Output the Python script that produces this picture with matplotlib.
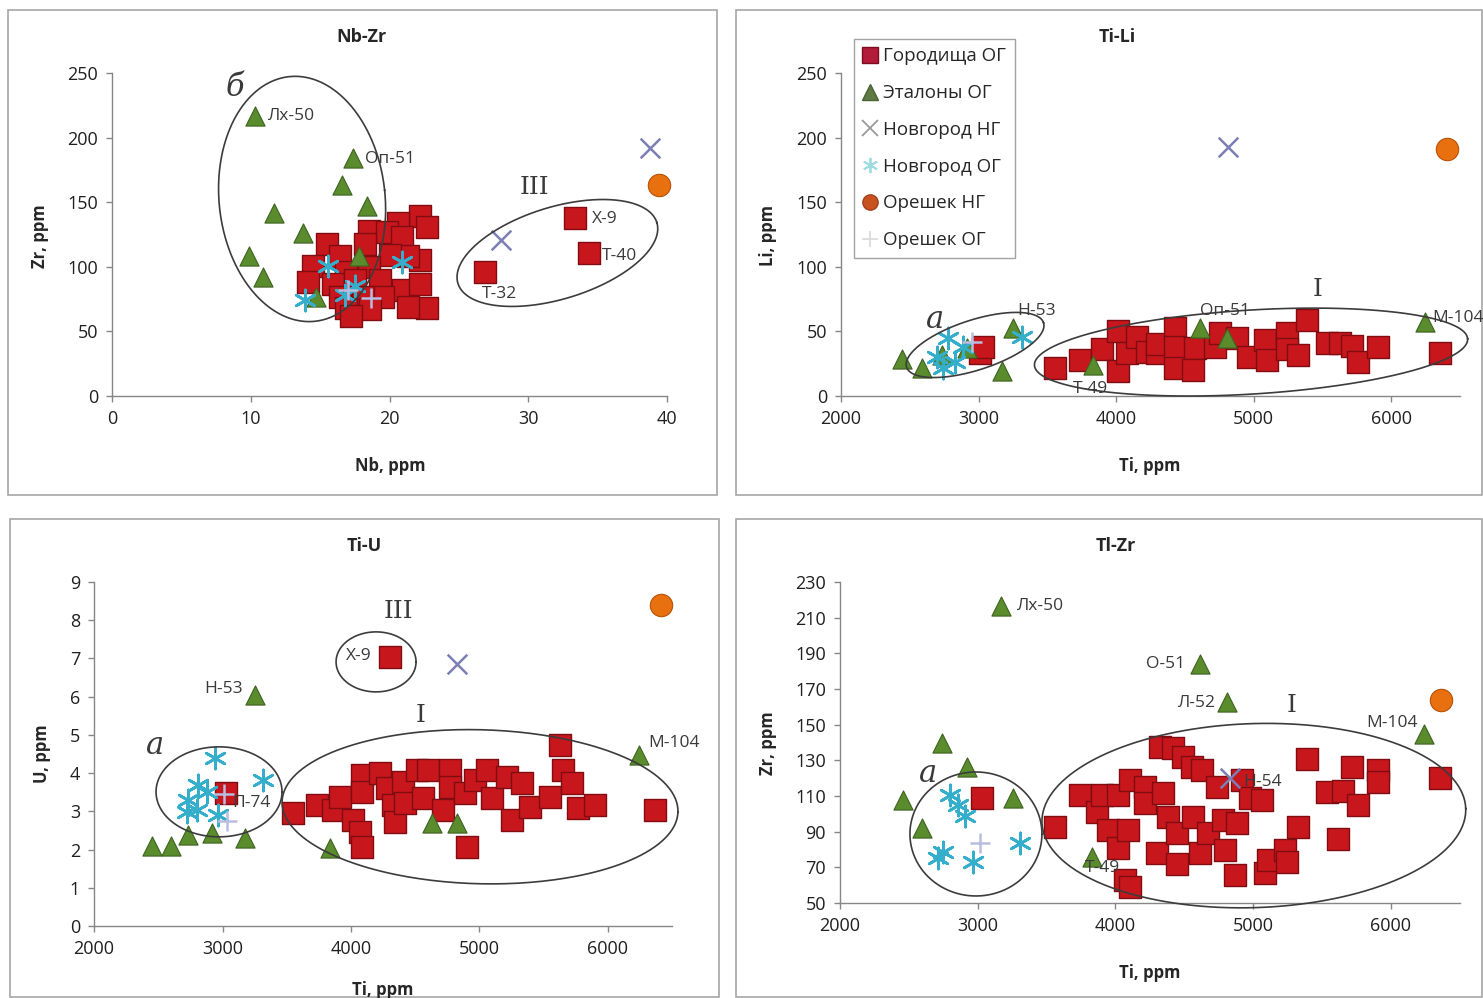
import numpy as np
import matplotlib
matplotlib.use("Agg")
import matplotlib.pyplot as plt
from matplotlib.patches import Rectangle
from matplotlib.lines import Line2D

plt.rcParams['font.family'] = ['Open Sans', 'DejaVu Sans']

W, H = 1483, 998

# ---------- data: Nb-Zr ----------
nbzr_gor_nb = [22.2, 22.7, 20.6, 18.5, 19.8, 20.9, 15.5, 18.2, 22.2, 21.3, 20.0, 16.4, 14.5, 16.9,
               18.5, 14.1, 15.9, 17.5, 19.3, 21.0, 22.2, 19.5, 18.1, 16.4, 16.9, 22.7, 21.3, 18.6, 17.2,
               33.4, 34.4, 26.9]
nbzr_gor_zr = [139, 131, 134, 128, 127, 123, 118, 118, 105, 108, 109, 108, 101, 96,
               100, 88, 87, 90, 90, 82, 87, 77, 77, 77, 68, 68, 69, 67, 62,
               138, 111, 96]
nbzr_et_nb = [10.3, 17.4, 16.6, 18.4, 11.7, 13.8, 9.9, 10.9, 17.8, 14.7]
nbzr_et_zr = [217, 184, 163, 147, 142, 126, 108, 92, 108, 77]
nbzr_nvng_nb = [28.0, 38.8]
nbzr_nvng_zr = [121, 192]
nbzr_nvog_nb = [13.9, 15.6, 20.9, 17.5, 16.8]
nbzr_nvog_zr = [74, 101, 104, 85, 78]
nbzr_orng_nb = [39.4]
nbzr_orng_zr = [163]
nbzr_orog_nb = [17.0, 18.7]
nbzr_orog_zr = [82, 76]

# ---------- data: Ti-Li ----------
tili_gor_ti = [3010, 3033, 3556, 3738, 3898, 4015, 4015, 4080, 4150, 4225, 4298, 4300,
               4429, 4429, 4429, 4575, 4560, 4720, 4756, 4880, 4960, 5084, 5098, 5244, 5244,
               5324, 5389, 5535, 5629, 5716, 5760, 5905, 6356]
tili_gor_li = [33, 38, 22, 28, 36, 50, 19, 33, 46, 34, 33, 40,
               53, 38, 22, 37, 20, 38, 49, 45, 30, 43, 28, 49, 36,
               32, 59, 41, 41, 39, 26, 38, 33]
tili_et_ti = [2444, 2589, 2735, 2916, 3251, 3171, 3833, 4611, 4807, 6247]
tili_et_li = [29, 22, 32, 37, 53, 19, 24, 53, 45, 57]
tili_nvng_ti = [4815]
tili_nvng_li = [193]
tili_nvog_ti = [2778, 2698, 2829, 2887, 2742, 3316]
tili_nvog_li = [45, 30, 26, 38, 22, 46]
tili_orng_ti = [6407]
tili_orng_li = [191]
tili_orog_ti = [2950]
tili_orog_li = [42]

# ---------- data: Ti-U ----------
tiu_gor_ti = [4303, 3027, 3549, 3735, 3860, 3914, 4016, 4070, 4086, 4086, 4086, 4226, 4280, 4327,
              4342, 4405, 4420, 4514, 4560, 4600, 4716, 4770, 4770, 4887, 4903, 4965, 5058, 5097,
              5214, 5253, 5331, 5393, 5549, 5626, 5650, 5720, 5767, 5899, 6366]
tiu_gor_u = [7.04, 3.48, 2.96, 3.17, 3.04, 3.38, 2.77, 2.46, 2.07, 3.95, 3.51, 4.00, 3.61, 3.17,
             2.72, 3.77, 3.22, 4.08, 3.35, 4.08, 3.04, 4.08, 3.64, 3.48, 2.07, 3.82, 4.08, 3.35,
             3.90, 2.77, 3.74, 3.12, 3.38, 4.74, 4.08, 3.74, 3.09, 3.17, 3.04]
tiu_et_ti = [3253, 2451, 2599, 2731, 2918, 3175, 3837, 4630, 4825, 6241]
tiu_et_u = [6.05, 2.09, 2.09, 2.38, 2.43, 2.30, 2.04, 2.70, 2.70, 4.48]
tiu_nvng_ti = [4825]
tiu_nvng_u = [6.86]
tiu_nvog_ti = [2942, 3315, 2809, 2879, 2731, 2724, 2802, 2965]
tiu_nvog_u = [4.40, 3.82, 3.69, 3.51, 3.30, 2.98, 3.04, 2.91]
tiu_orng_ti = [6412]
tiu_orng_u = [8.40]
tiu_orog_ti = [3035, 3010]
tiu_orog_u = [2.75, 3.45]

# ---------- data: Ti-Zr ----------
tizr_gor_ti = [3031, 3561, 3742, 3866, 3902, 3946, 4018, 4018, 4091, 4069, 4105, 4105, 4214, 4214,
               4301, 4323, 4345, 4381, 4417, 4447, 4447, 4490, 4563, 4555, 4614, 4628, 4672, 4737,
               4780, 4795, 4867, 4918, 4882, 4976, 5063, 5085, 5107, 5231, 5245, 5325, 5390, 5535,
               5615, 5651, 5717, 5760, 5906, 5906, 6356]
tizr_gor_zr = [109, 92.6, 110.6, 101, 110.6, 91, 110.6, 81, 91, 63, 119, 59, 115, 106,
               78, 137.5, 111.7, 98, 137, 89, 72, 132, 98, 126, 78, 124.6, 89, 115,
               96.5, 79.7, 65.7, 119, 95, 109, 108, 67, 74, 80, 73, 92.6, 131, 112,
               86, 113, 126, 105, 124.6, 118, 120]
tizr_et_ti = [3169, 4613, 4809, 6240, 2740, 2922, 2457, 2595, 3256, 3829]
tizr_et_zr = [216.5, 184, 162.7, 145, 140, 126, 108, 92, 109, 76]
tizr_nvng_ti = [4831]
tizr_nvng_zr = [120]
tizr_nvog_ti = [2799, 2857, 2907, 3307, 2711, 2748, 2966]
tizr_nvog_zr = [110.6, 105, 99, 83.6, 75, 78.6, 73]
tizr_orng_ti = [6363]
tizr_orng_zr = [163.8]
tizr_orog_ti = [3016]
tizr_orog_zr = [83.6]

legend_labels = ['Городища ОГ', 'Эталоны ОГ', 'Новгород НГ', 'Новгород ОГ', 'Орешек НГ', 'Орешек ОГ']

RED, RED_E = '#c8161d', '#7e0c10'
GREEN, GREEN_E = '#5a8b2c', '#3e6320'
XCOL = '#7b7fb3'
CYAN = '#35aecb'
ORANGE, ORANGE_E = '#e8700f', '#b5520a'
PLUS = '#b9bde0'
GRAY = '#868686'
TXT = '#3a3a3a'


def axes_px(x0, y0, x1, y1):
    return fig.add_axes([x0 / W, 1 - y1 / H, (x1 - x0) / W, (y1 - y0) / H])


def style(ax, xlim, ylim, xt, yt):
    ax.set_xlim(*xlim)
    ax.set_ylim(*ylim)
    ax.set_xticks(xt)
    ax.set_yticks(yt)
    for s in ['top', 'right']:
        ax.spines[s].set_visible(False)
    for s in ['left', 'bottom']:
        ax.spines[s].set_color(GRAY)
        ax.spines[s].set_linewidth(1.0)
    ax.tick_params(colors=GRAY, labelcolor='#202020', labelsize=13, length=4, width=1, pad=6)
    ax.patch.set_alpha(0)


def plot_series(ax, gx, gy, ex, ey, nx, ny, cx, cy, ox, oy, px, py):
    ax.scatter(gx, gy, marker='s', s=250, c=RED, edgecolors=RED_E, linewidths=1.0, zorder=3, clip_on=False)
    ax.scatter(ex, ey, marker='^', s=190, c=GREEN, edgecolors=GREEN_E, linewidths=0.8, zorder=4, clip_on=False)
    ax.scatter(nx, ny, marker='x', s=200, c=XCOL, linewidths=1.8, zorder=4, clip_on=False)
    ax.scatter(cx, cy, marker=(6, 2, 0), s=230, c=CYAN, linewidths=2.0, zorder=4, clip_on=False)
    ax.scatter(ox, oy, marker='o', s=260, c=ORANGE, edgecolors=ORANGE_E, linewidths=0.8, zorder=4, clip_on=False)
    ax.scatter(px, py, marker='+', s=220, c=PLUS, linewidths=1.8, zorder=4, clip_on=False)


def ellipse(ax, cx, cy, a, b, ang=0):
    # a, b are semi-axes in pixels, ang in degrees
    t = np.linspace(0, 2 * np.pi, 300)
    c, s = np.cos(np.radians(ang)), np.sin(np.radians(ang))
    x0, y0 = ax.transData.transform((cx, cy))
    ex, ey = a * np.cos(t), b * np.sin(t)
    pts = np.column_stack([x0 + ex * c - ey * s, y0 + ex * s + ey * c])
    d = ax.transData.inverted().transform(pts)
    ax.plot(d[:, 0], d[:, 1], color='#3c3c3c', lw=1.2, zorder=5, clip_on=False)


def ftext(x, y, s, **kw):
    fig.text(x / W, 1 - y / H, s, **kw)


def lab(x, y, s, ha='left'):
    ftext(x, y, s, ha=ha, va='center', fontsize=12.5, color=TXT)


def roman(x, y, s):
    ftext(x, y, s, ha='center', va='center', fontsize=18, color=TXT, family='DejaVu Serif')


def italic(x, y, s):
    ftext(x, y, s, ha='center', va='center', fontsize=22, color=TXT, family='DejaVu Serif', style='italic')


fig = plt.figure(figsize=(W / 100, H / 100), dpi=100)

# panel frames
for (x0, y0, x1, y1) in [(8, 10, 717, 495), (736, 10, 1482, 495), (10, 519, 719, 997), (736, 519, 1482, 997)]:
    fig.patches.append(Rectangle((x0 / W, 1 - y1 / H), (x1 - x0) / W, (y1 - y0) / H,
                                 transform=fig.transFigure, fill=False, edgecolor='#a6a6a6', lw=1.2))

# ---- Nb-Zr ----
ax1 = axes_px(112, 73, 667, 396)
style(ax1, (0, 40), (0, 250), [0, 10, 20, 30, 40], range(0, 251, 50))
plot_series(ax1, nbzr_gor_nb, nbzr_gor_zr, nbzr_et_nb, nbzr_et_zr, nbzr_nvng_nb, nbzr_nvng_zr,
            nbzr_nvog_nb, nbzr_nvog_zr, nbzr_orng_nb, nbzr_orng_zr, nbzr_orog_nb, nbzr_orog_zr)
ellipse(ax1, 13.7, 152.5, 83, 123, 6)
ellipse(ax1, 32.1, 110.7, 104, 46, 17)

# ---- Ti-Li ----
ax2 = axes_px(841, 73, 1459.75, 396)
style(ax2, (2000, 6500), (0, 250), range(2000, 6001, 1000), range(0, 251, 50))
plot_series(ax2, tili_gor_ti, tili_gor_li, tili_et_ti, tili_et_li, tili_nvng_ti, tili_nvng_li,
            tili_nvog_ti, tili_nvog_li, tili_orng_ti, tili_orng_li, tili_orog_ti, tili_orog_li)
ellipse(ax2, 2975, 39.5, 72, 25, 18)
ellipse(ax2, 4982, 34, 217, 42, 3.5)

# ---- Ti-U ----
ax3 = axes_px(94, 582, 672.25, 926)
style(ax3, (2000, 6500), (0, 9), range(2000, 6001, 1000), range(0, 10))
plot_series(ax3, tiu_gor_ti, tiu_gor_u, tiu_et_ti, tiu_et_u, tiu_nvng_ti, tiu_nvng_u,
            tiu_nvog_ti, tiu_nvog_u, tiu_orng_ti, tiu_orng_u, tiu_orog_ti, tiu_orog_u)
ellipse(ax3, 2973, 3.51, 63, 45)
ellipse(ax3, 4195, 6.91, 40, 30)
ellipse(ax3, 5004, 3.12, 198, 77, -1.5)

# ---- Ti-Zr ----
ax4 = axes_px(840, 582, 1459.75, 903)
style(ax4, (2000, 6500), (50, 230), range(2000, 6001, 1000), range(50, 231, 20))
plot_series(ax4, tizr_gor_ti, tizr_gor_zr, tizr_et_ti, tizr_et_zr, tizr_nvng_ti, tizr_nvng_zr,
            tizr_nvog_ti, tizr_nvog_zr, tizr_orng_ti, tizr_orng_zr, tizr_orog_ti, tizr_orog_zr)
ellipse(ax4, 2987, 88.7, 66, 62)
ellipse(ax4, 5005, 99, 212, 92, 1.9)

# titles and axis labels
for (x, y, s) in [(362, 37, 'Nb-Zr'), (1117, 37, 'Ti-Li'), (364, 546, 'Ti-U'), (1116, 546, 'Tl-Zr')]:
    ftext(x, y, s, ha='center', va='center', fontsize=13, fontweight='bold', color='#262626')
for (x, y, s) in [(390, 466, 'Nb, ppm'), (1150, 466, 'Ti, ppm'), (383, 990, 'Ti, ppm'), (1150, 973, 'Ti, ppm')]:
    ftext(x, y, s, ha='center', va='center', fontsize=12, fontweight='bold', color='#262626')
for (x, y, s) in [(40, 236, 'Zr, ppm'), (768, 236, 'Li, ppm'), (42, 754, 'U, ppm'), (768, 743, 'Zr, ppm')]:
    ftext(x, y, s, ha='center', va='center', fontsize=12, fontweight='bold', color='#262626', rotation=90)

# point labels
lab(268, 116, 'Лх-50'); lab(365, 159, 'Оп-51'); lab(592, 219, 'Х-9'); lab(602, 256, 'Т-40'); lab(482, 294, 'Т-32')
lab(1017, 311, 'Н-53'); lab(1200, 311, 'Оп-51'); lab(1073, 389, 'Т-49'); lab(1432, 318, 'М-104')
lab(243, 689, 'Н-53', 'right'); lab(372, 656, 'Х-9', 'right'); lab(232, 803, 'П-74'); lab(648, 743, 'М-104')
lab(1017, 606, 'Лх-50'); lab(1185, 664, 'О-51', 'right'); lab(1216, 703, 'Л-52', 'right')
lab(1418, 723, 'М-104', 'right'); lab(1243, 782, 'Н-54'); lab(1085, 868, 'Т-49')

italic(235, 88, 'б'); roman(534, 187, 'III')
italic(935, 320, 'а'); roman(1318, 290, 'I')
italic(155, 745, 'а'); roman(398, 612, 'III'); roman(421, 716, 'I')
italic(928, 774, 'а'); roman(1292, 705, 'I')

# legend
handles = [
    Line2D([], [], ls='', marker='s', ms=11, mfc='#b21c3a', mec='#7e0c20'),
    Line2D([], [], ls='', marker='^', ms=11, mfc='#5e7a45', mec='#4a6236'),
    Line2D([], [], ls='', marker='x', ms=11, mec='#9a9a9a', mew=1.3),
    Line2D([], [], ls='', marker=(6, 2, 0), ms=11, mec='#9edbe0', mew=1.3),
    Line2D([], [], ls='', marker='o', ms=11, mfc='#c8531e', mec='#a0401a'),
    Line2D([], [], ls='', marker='+', ms=11, mec='#dcdcdc', mew=1.3),
]
leg = fig.legend(handles, legend_labels, loc='upper left', bbox_to_anchor=(854 / W, 1 - 39 / H),
                 bbox_transform=fig.transFigure, fontsize=13.5, frameon=True, fancybox=False,
                 edgecolor='#8c8c8c', handlelength=0.8, handletextpad=0.3, labelspacing=1.0,
                 borderpad=0.45, borderaxespad=0)
leg.get_frame().set_linewidth(1.0)
for t in leg.get_texts():
    t.set_color('#262626')

fig.savefig('out.png', dpi=100)
